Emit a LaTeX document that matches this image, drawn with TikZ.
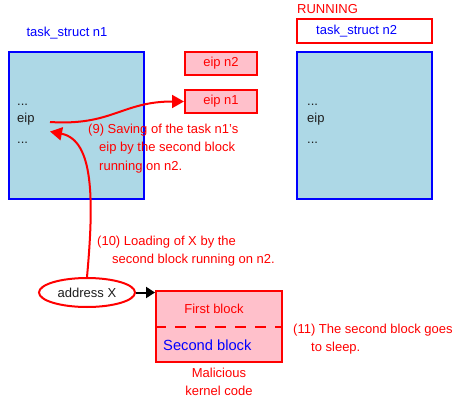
\documentclass[tikz,border=0pt]{standalone}
\usepackage{fontspec}
\setmainfont{Liberation Sans}
\usetikzlibrary{shapes.geometric,arrows.meta}
\definecolor{lblue}{RGB}{173,216,230}
\definecolor{pinkc}{RGB}{255,192,203}
\definecolor{darktxt}{RGB}{30,30,30}
\newcommand{\fsz}[1]{\fontsize{#1}{18.5}\selectfont}
\begin{document}
\begin{tikzpicture}[x=1pt,y=-1pt,
  structbox/.style={draw=blue, fill=lblue, line width=2pt, minimum width=135pt, minimum height=147pt, inner sep=0pt},
  eipbox/.style={draw=red, fill=pinkc, line width=2pt, minimum width=72pt, minimum height=23pt, inner sep=0pt, text=red, font=\fsz{13}},
  lbl/.style={inner sep=0pt, font=\fsz{13}},
  redarrow/.style={draw=red, line width=2pt, -{Triangle[length=12pt,width=13pt]}},
]
\useasboundingbox (0,0) rectangle (454,398);

% task_struct n1
\node[lbl, text=blue] (t1lbl) at (67,33) {task\_struct n1};
\node[structbox] (box1) at (76.5,125.5) {};
\node[lbl, text=darktxt, anchor=base west] (d1a) at (17,106) {...};
\node[lbl, text=darktxt, anchor=base west] (e1) at (17,123) {eip};
\node[lbl, text=darktxt, anchor=base west] (d1b) at (17,143) {...};

% eip boxes
\node[eipbox] (eipn2) at (221,63.5) {eip n2};
\node[eipbox] (eipn1) at (221,101.5) {eip n1};

% task_struct n2
\node[lbl, text=red, anchor=west] (running) at (297,9.5) {RUNNING};
\node[draw=red, fill=white, line width=2pt, minimum width=135pt, minimum height=24pt, inner sep=0pt] (t2box) at (364.5,31) {};
\node[lbl, text=blue, anchor=west] (t2lbl) at (316,31) {task\_struct n2};
\node[structbox] (box2) at (364.5,125.5) {};
\node[lbl, text=darktxt, anchor=base west] (d2a) at (307,106) {...};
\node[lbl, text=darktxt, anchor=base west] (e2) at (307,123) {eip};
\node[lbl, text=darktxt, anchor=base west] (d2b) at (307,143) {...};

% address X
\node[draw=red, line width=2pt, ellipse, minimum width=96pt, minimum height=29pt, inner sep=0pt, fill=white, lbl, text=darktxt] (addr) at (87,292.5) {address X};

% malicious code
\node[draw=red, fill=pinkc, line width=2pt, minimum width=126pt, minimum height=71pt, inner sep=0pt] (mal) at (219,326.5) {};
\draw[red, line width=2pt, dash pattern=on 11pt off 9pt] (mal.west) -- (mal.east);
\node[lbl, text=red, anchor=base] (first) at (214,313) {First block};
\node[inner sep=0pt, text=blue, font=\fsz{14.7}, anchor=base west] (second) at (163,350) {Second block};
\node[lbl, text=red, align=center, anchor=north] (maltxt) at (219,367.5) {Malicious\\kernel code};

% annotations
\node[lbl, text=red, align=left, anchor=north west] (note9) at (88,123.5) {(9) Saving of the task n1's\\\hspace*{11pt}eip by the second block\\\hspace*{11pt}running on n2.};
\node[lbl, text=red, align=left, anchor=north west] (note10) at (97,235.5) {(10) Loading of X by the\\\hspace*{15pt}second block running on n2.};
\node[lbl, text=red, align=left, anchor=north west] (note11) at (293,323.5) {(11) The second block goes\\\hspace*{18pt}to sleep.};

% connectors
\coordinate (eipout) at (50,122);
\coordinate (eipin) at (50,131.5);
\draw[redarrow] (eipout) .. controls (112,126) and (122,101.5) .. (eipn1.west);
\draw[redarrow] (addr.north) .. controls (94,200) and (94,140) .. (eipin);
\draw[black, line width=2pt, -{Triangle[length=9pt,width=11pt]}] (addr.east) -- (addr.east -| mal.west);
\end{tikzpicture}
\end{document}
